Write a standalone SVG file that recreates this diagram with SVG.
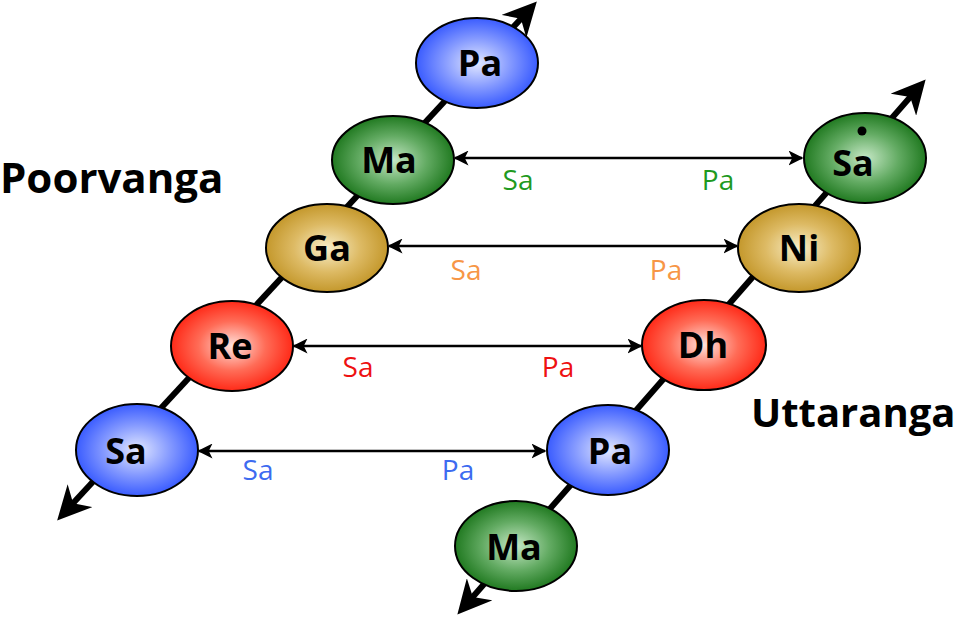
<svg xmlns="http://www.w3.org/2000/svg" width="960" height="618" viewBox="0 0 960 618">
<defs>
<radialGradient id="gBlue" cx="50%" cy="50%" r="50%"><stop offset="0" stop-color="#e2e8ff"/><stop offset="0.55" stop-color="#8499ff"/><stop offset="1" stop-color="#3a5cff"/></radialGradient>
<radialGradient id="gGreen" cx="50%" cy="50%" r="50%"><stop offset="0" stop-color="#c6e8c6"/><stop offset="0.55" stop-color="#63ab63"/><stop offset="1" stop-color="#217a21"/></radialGradient>
<radialGradient id="gGold" cx="50%" cy="50%" r="50%"><stop offset="0" stop-color="#f8eec8"/><stop offset="0.55" stop-color="#ddba64"/><stop offset="1" stop-color="#c4982c"/></radialGradient>
<radialGradient id="gRed" cx="50%" cy="50%" r="50%"><stop offset="0" stop-color="#ffe2dc"/><stop offset="0.55" stop-color="#ff6c57"/><stop offset="1" stop-color="#ff2a18"/></radialGradient>
<marker id="bigArrow" viewBox="0 0 10 10" refX="7" refY="5" markerWidth="5.6" markerHeight="5.6" orient="auto-start-reverse" markerUnits="strokeWidth"><path d="M0,0 L10,5 L0,10 L3,5 Z" fill="#000"/></marker>
<marker id="smallArrow" viewBox="0 0 10 10" refX="9" refY="5" markerWidth="6" markerHeight="6" orient="auto-start-reverse" markerUnits="strokeWidth"><path d="M0,0 L10,5 L0,10 L2.5,5 Z" fill="#000"/></marker>
<style>
.node ellipse{stroke:#000;stroke-width:2}
.nt{font-family:"Open Sans","Liberation Sans",sans-serif;font-weight:bold;font-size:36px;text-anchor:middle;fill:#000}
.lbl{font-family:"Open Sans","Liberation Sans",sans-serif;font-size:28px;text-anchor:middle}
.title{font-family:"Open Sans","Liberation Sans",sans-serif;font-weight:bold;font-size:42px;fill:#000}
.axis{stroke:#000;stroke-width:6;fill:none}
.link{stroke:#000;stroke-width:2.5;fill:none}
</style>
</defs>
<rect width="960" height="618" fill="#fff"/>
<g id="connectors">
<line class="axis" x1="64" y1="513" x2="530" y2="9" marker-start="url(#bigArrow)" marker-end="url(#bigArrow)"/>
<line class="axis" x1="464" y1="607" x2="919" y2="87" marker-start="url(#bigArrow)" marker-end="url(#bigArrow)"/>
<line class="link" x1="455" y1="158" x2="802" y2="158" marker-start="url(#smallArrow)" marker-end="url(#smallArrow)"/>
<line class="link" x1="389" y1="246" x2="737" y2="246" marker-start="url(#smallArrow)" marker-end="url(#smallArrow)"/>
<line class="link" x1="294" y1="346" x2="641" y2="346" marker-start="url(#smallArrow)" marker-end="url(#smallArrow)"/>
<line class="link" x1="199" y1="451" x2="545" y2="451" marker-start="url(#smallArrow)" marker-end="url(#smallArrow)"/>
</g>
<g id="labels">
<text class="lbl" x="518" y="190" fill="#1f9a1f">Sa</text>
<text class="lbl" x="718" y="190" fill="#1f9a1f">Pa</text>
<text class="lbl" x="466" y="280" fill="#f79646">Sa</text>
<text class="lbl" x="666" y="280" fill="#f79646">Pa</text>
<text class="lbl" x="358" y="377" fill="#ee1111">Sa</text>
<text class="lbl" x="558" y="377" fill="#ee1111">Pa</text>
<text class="lbl" x="258" y="480" fill="#3d6bf0">Sa</text>
<text class="lbl" x="458" y="480" fill="#3d6bf0">Pa</text>
</g>
<g id="node-pa-top" class="node"><ellipse cx="477" cy="63" rx="61" ry="45" fill="url(#gBlue)"/><text class="nt" x="480" y="76">Pa</text></g>
<g id="node-ma-left" class="node"><ellipse cx="393" cy="160" rx="61" ry="44" fill="url(#gGreen)"/><text class="nt" x="389" y="173">Ma</text></g>
<g id="node-ga" class="node"><ellipse cx="327" cy="248" rx="61" ry="44" fill="url(#gGold)"/><text class="nt" x="327" y="261">Ga</text></g>
<g id="node-re" class="node"><ellipse cx="232" cy="346" rx="61" ry="45" fill="url(#gRed)"/><text class="nt" x="230" y="359">Re</text></g>
<g id="node-sa-left" class="node"><ellipse cx="137" cy="450" rx="61" ry="46" fill="url(#gBlue)"/><text class="nt" x="126" y="464">Sa</text></g>
<g id="node-sa-right" class="node"><ellipse cx="865" cy="158" rx="61" ry="45" fill="url(#gGreen)"/><text class="nt" x="853" y="176">Sa</text><circle cx="862" cy="131" r="4.5" fill="#000"/></g>
<g id="node-ni" class="node"><ellipse cx="799" cy="248" rx="61" ry="44" fill="url(#gGold)"/><text class="nt" x="799" y="261">Ni</text></g>
<g id="node-dh" class="node"><ellipse cx="704" cy="345" rx="62" ry="45" fill="url(#gRed)"/><text class="nt" x="703" y="358">Dh</text></g>
<g id="node-pa-right" class="node"><ellipse cx="608" cy="450" rx="61" ry="45" fill="url(#gBlue)"/><text class="nt" x="610" y="464">Pa</text></g>
<g id="node-ma-bottom" class="node"><ellipse cx="516" cy="546" rx="61" ry="45" fill="url(#gGreen)"/><text class="nt" x="514" y="560">Ma</text></g>
<text class="title" x="0" y="193">Poorvanga</text>
<text class="title" x="751" y="427" style="font-size:40px">Uttaranga</text>
</svg>
